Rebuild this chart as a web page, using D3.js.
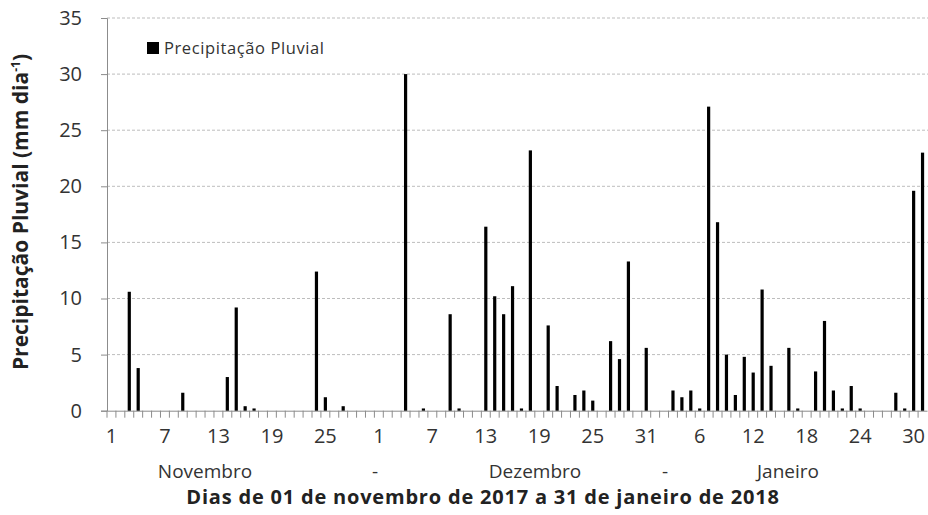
<!DOCTYPE html>
<html>
<head>
<meta charset="utf-8">
<script src="https://cdn.jsdelivr.net/npm/d3@7"></script>
<style>
  body { margin: 0; background: #fff; }
  text { font-family: "Open Sans", Lato, sans-serif; }
</style>
</head>
<body>
<script>
const w = 928, h = 515;

// daily rainfall (mm), one value per day
const novembro = [0, 0, 10.6, 3.8, 0, 0, 0, 0, 1.6, 0, 0, 0, 0, 3.0, 9.2, 0.4, 0.2, 0, 0, 0,
                  0, 0, 0, 12.4, 1.2, 0, 0.4, 0, 0, 0];
const dezembro = [0, 0, 0, 30.0, 0, 0.2, 0, 0, 8.6, 0.2, 0, 0, 16.4, 10.2, 8.6, 11.1, 0.2, 23.2, 0, 7.6,
                  2.2, 0, 1.4, 1.8, 0.9, 0, 6.2, 4.6, 13.3, 0, 5.6];
const janeiro  = [0, 0, 1.8, 1.2, 1.8, 0.2, 27.1, 16.8, 5.0, 1.4, 4.8, 3.4, 10.8, 4.0, 0, 5.6, 0.2, 0, 3.5, 8.0,
                  1.8, 0.2, 2.2, 0.2, 0, 0, 0, 1.6, 0.2, 19.6, 23.0];
const meses = ["Novembro", "-", "Dezembro", "-", "Janeiro"];
const yTicks = [0, 5, 10, 15, 20, 25, 30, 35];

const dados = [];
[novembro, dezembro, janeiro].forEach((arr) => {
  arr.forEach((v, i) => dados.push({ key: dados.length, dia: i + 1, valor: v }));
});

const mLeft = 107, mRight = 927, mTop = 18, mBottom = 410.7;

const x = d3.scaleBand()
  .domain(dados.map(d => d.key))
  .range([mLeft, mRight]);

const y = d3.scaleLinear()
  .domain([0, 35])
  .range([mBottom, mTop]);

const svg = d3.select('body').append('svg')
  .attr('width', w)
  .attr('height', h);

// gridlines
svg.append('g')
  .selectAll('line')
  .data(yTicks.filter(t => t > 0))
  .enter()
  .append('line')
  .attr('x1', mLeft)
  .attr('x2', mRight + 1)
  .attr('y1', d => y(d))
  .attr('y2', d => y(d))
  .attr('stroke', '#bdbdbd')
  .attr('stroke-width', 1)
  .attr('stroke-dasharray', '3,2');

// y axis
const yAxis = svg.append('g')
  .attr('transform', `translate(${mLeft},0)`)
  .call(d3.axisLeft(y).tickValues(yTicks).tickSize(6).tickPadding(19));
yAxis.select('.domain').attr('stroke', '#8c8c8c');
yAxis.selectAll('.tick line').attr('stroke', '#8c8c8c');
yAxis.selectAll('.tick text')
  .attr('font-size', '20px')
  .attr('fill', '#333');

// x axis
const xAxis = svg.append('g')
  .attr('transform', `translate(0,${mBottom})`)
  .call(d3.axisBottom(x).tickValues([]).tickSizeOuter(0));
xAxis.select('.domain').attr('stroke', '#8c8c8c');

// small ticks between days
svg.append('g')
  .selectAll('line')
  .data(dados)
  .enter()
  .append('line')
  .attr('x1', d => x(d.key))
  .attr('x2', d => x(d.key))
  .attr('y1', mBottom)
  .attr('y2', mBottom + 7)
  .attr('stroke', '#8c8c8c');

// labels every 6 days
svg.append('g')
  .selectAll('text')
  .data(dados.filter(d => d.key % 6 === 0))
  .enter()
  .append('text')
  .attr('x', d => x(d.key) + x.bandwidth() / 2)
  .attr('y', 443)
  .attr('text-anchor', 'middle')
  .attr('font-size', '20px')
  .attr('fill', '#333')
  .text(d => d.dia);

// bars
svg.append('g')
  .selectAll('rect')
  .data(dados.filter(d => d.valor > 0))
  .enter()
  .append('rect')
  .attr('x', d => x(d.key) + x.bandwidth() / 2 - 1.6)
  .attr('width', 3.2)
  .attr('y', d => y(d.valor))
  .attr('height', d => mBottom - y(d.valor))
  .attr('fill', '#000');

// month labels
const mesX = [205, 375, 535, 665, 788];
svg.append('g')
  .selectAll('text')
  .data(meses)
  .enter()
  .append('text')
  .attr('x', (d, i) => mesX[i])
  .attr('y', 478)
  .attr('text-anchor', 'middle')
  .attr('font-size', '19px')
  .attr('fill', '#333')
  .text(d => d);

// x title
svg.append('text')
  .attr('x', 483)
  .attr('y', 504)
  .attr('text-anchor', 'middle')
  .attr('font-size', '20px')
  .attr('font-weight', 'bold')
  .attr('letter-spacing', '0.8px')
  .attr('fill', '#222')
  .text('Dias de 01 de novembro de 2017 a 31 de janeiro de 2018');

// y title
const yt = svg.append('text')
  .attr('transform', 'translate(28,212) rotate(-90)')
  .attr('text-anchor', 'middle')
  .attr('font-size', '21px')
  .attr('font-weight', 'bold')
  .attr('fill', '#222');
yt.append('tspan').text('Precipitação Pluvial (mm dia');
yt.append('tspan').attr('font-size', '12px').attr('dy', -8).text('-1');
yt.append('tspan').attr('dy', 8).text(')');

// legend
svg.append('rect')
  .attr('x', 147)
  .attr('y', 42)
  .attr('width', 12)
  .attr('height', 12)
  .attr('fill', '#000');
svg.append('text')
  .attr('x', 164)
  .attr('y', 54)
  .attr('font-size', '16.5px')
  .attr('letter-spacing', '0.6px')
  .attr('fill', '#333')
  .text('Precipitação  Pluvial');
</script>
</body>
</html>
